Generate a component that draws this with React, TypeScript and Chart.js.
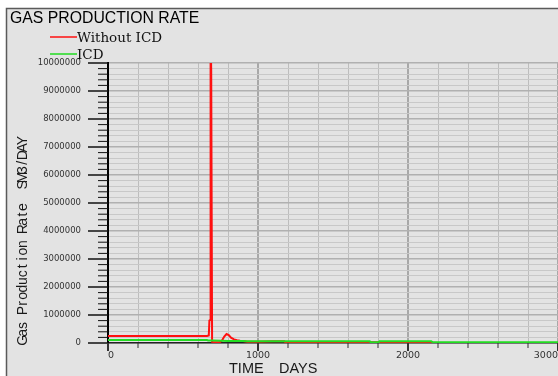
import React, { useEffect, useRef } from 'react';
import { Chart, registerables } from 'chart.js';

Chart.register(...registerables);

// ---- text ----
const chartTitle = 'GAS PRODUCTION RATE';
const xAxisTitleWords = ['TIME', 'DAYS'];
const yAxisTitle = 'Gas Production Rate  SM3/DAY';
const seriesNames = ['Without ICD', 'ICD'];

// ---- data (days, SM3/DAY) ----
const withoutIcdDays = [0, 300, 600, 660, 672, 676, 681, 684, 688, 694, 720, 745, 760, 775, 790, 805, 820, 840, 860, 880, 900, 930, 1000, 1100, 1175, 1182, 1500, 1750, 1800, 2000, 2165];
const withoutIcdRates = [250000, 250000, 250000, 252000, 270000, 800000, 820000, 11000000, 9750000, 40000, 25000, 30000, 90000, 230000, 320000, 280000, 190000, 130000, 100000, 80000, 70000, 45000, 45000, 60000, 60000, 25000, 25000, 25000, 25000, 25000, 25000];

const icdDays = [0, 660, 668, 700, 800, 900, 925, 1000, 1745, 1750, 1805, 1810, 2155, 2165, 2500, 3000];
const icdRates = [107000, 107000, 85000, 85000, 75000, 72000, 62000, 62000, 62000, 30000, 30000, 62000, 62000, 25000, 25000, 30000];

// ---- ticks ----
const xMajorTicks = [0, 1000, 2000, 3000];
const xMinorStep = 200;
const yMajorTicks = [0, 1000000, 2000000, 3000000, 4000000, 5000000, 6000000, 7000000, 8000000, 9000000, 10000000];
const yMinorStep = 200000;

const X_MAX = xMajorTicks[xMajorTicks.length - 1];
const Y_MAX = yMajorTicks[yMajorTicks.length - 1];

const xGridValues: number[] = [];
for (let v = 0; v <= X_MAX; v += xMinorStep) xGridValues.push(v);
const yGridValues: number[] = [];
for (let v = 0; v <= Y_MAX; v += yMinorStep) yGridValues.push(v);

const RED = '#ff1010';
const GREEN = '#22dd22';
const BG = '#e3e3e3';

const decor = {
  id: 'decor',
  beforeDraw(chart: any) {
    const { ctx, width: W, height: H } = chart;
    ctx.save();
    ctx.fillStyle = '#ffffff';
    ctx.fillRect(0, 0, W, H);
    ctx.fillStyle = BG;
    ctx.fillRect(6, 8, W - 6, H - 8);
    ctx.strokeStyle = '#5a5a5a';
    ctx.lineWidth = 1.5;
    ctx.beginPath();
    ctx.moveTo(6.5, H);
    ctx.lineTo(6.5, 8.5);
    ctx.lineTo(W, 8.5);
    ctx.stroke();
    ctx.restore();
  },
  afterDraw(chart: any) {
    const { ctx, chartArea, scales } = chart;
    const xs = scales.x;
    const ys = scales.y;
    ctx.save();
    // y tick marks
    ctx.strokeStyle = '#111';
    yGridValues.forEach((v) => {
      const py = ys.getPixelForValue(v);
      const major = yMajorTicks.includes(v);
      ctx.lineWidth = major ? 1.5 : 1;
      ctx.beginPath();
      ctx.moveTo(major ? 88 : 98, py);
      ctx.lineTo(chartArea.left, py);
      ctx.stroke();
    });
    // x tick marks
    ctx.strokeStyle = '#333';
    xGridValues.forEach((v) => {
      const px = xs.getPixelForValue(v);
      const major = xMajorTicks.includes(v);
      ctx.lineWidth = major ? 2 : 1;
      ctx.beginPath();
      ctx.moveTo(px, chartArea.bottom);
      ctx.lineTo(px, chartArea.bottom + (major ? 8 : 5));
      ctx.stroke();
    });
    // title
    ctx.fillStyle = '#000';
    ctx.font = '15.8px "Liberation Sans", Arial, sans-serif';
    ctx.textAlign = 'left';
    ctx.textBaseline = 'middle';
    ctx.fillText(chartTitle, 10, 19);
    // legend
    const legendColors = [RED, GREEN];
    const legendY = [37, 54];
    seriesNames.forEach((name, i) => {
      ctx.strokeStyle = legendColors[i];
      ctx.lineWidth = 1.5;
      ctx.beginPath();
      ctx.moveTo(50, legendY[i]);
      ctx.lineTo(77, legendY[i]);
      ctx.stroke();
      ctx.fillStyle = '#111';
      ctx.font = '13.5px "DejaVu Serif", serif';
      ctx.textBaseline = 'middle';
      ctx.fillText(name, 77, legendY[i] + 1);
    });
    // x axis title
    ctx.fillStyle = '#1a1a1a';
    ctx.font = '14.5px "Liberation Sans", Arial, sans-serif';
    ctx.textBaseline = 'alphabetic';
    ctx.fillText(xAxisTitleWords[0], 229, 373);
    ctx.fillText(xAxisTitleWords[1], 279, 373);
    // y axis title (fixed character cells)
    ctx.translate(27, 344);
    ctx.rotate(-Math.PI / 2);
    ctx.font = '14px "Liberation Sans", Arial, sans-serif';
    ctx.textAlign = 'center';
    ctx.textBaseline = 'alphabetic';
    const cell = 7.4;
    for (let i = 0; i < yAxisTitle.length; i++) {
      ctx.fillText(yAxisTitle[i], i * cell + cell / 2, 0);
    }
    ctx.restore();
  },
};

export default function App() {
  const ref = useRef<HTMLCanvasElement | null>(null);
  useEffect(() => {
    if (!ref.current) return;
    const chart = new Chart(ref.current, {
      type: 'line',
      data: {
        datasets: [
          {
            label: seriesNames[1],
            data: icdDays.map((d, i) => ({ x: d, y: icdRates[i] })),
            borderColor: GREEN,
            backgroundColor: GREEN,
            borderWidth: 2,
            pointRadius: 0,
            tension: 0,
            fill: false,
            order: 0,
          },
          {
            label: seriesNames[0],
            data: withoutIcdDays.map((d, i) => ({ x: d, y: withoutIcdRates[i] })),
            borderColor: RED,
            backgroundColor: RED,
            borderWidth: 2,
            pointRadius: 0,
            tension: 0,
            fill: false,
            order: 1,
          },
        ],
      },
      options: {
        responsive: false,
        animation: false,
        devicePixelRatio: 1,
        layout: { padding: { left: 0, right: 0, top: 63, bottom: 0 } },
        plugins: {
          legend: { display: false },
          tooltip: { enabled: false },
          title: { display: false },
        },
        scales: {
          x: {
            type: 'linear',
            min: 0,
            max: X_MAX,
            afterFit: (s: any) => {
              s.height = 33;
              s.paddingLeft = 0;
              s.paddingRight = 0;
            },
            afterBuildTicks: (s: any) => {
              s.ticks = xGridValues.map((v) => ({ value: v }));
            },
            ticks: {
              autoSkip: false,
              maxRotation: 0,
              minRotation: 0,
              align: 'inner',
              padding: 7,
              color: '#333',
              font: { family: '"DejaVu Sans", sans-serif', size: 9.5 },
              callback: (v: any) => (xMajorTicks.includes(Number(v)) ? String(v) : ''),
            },
            grid: {
              drawTicks: false,
              color: (c: any) => (c.tick && xMajorTicks.includes(c.tick.value) ? '#a8a8a8' : '#bdbdbd'),
              lineWidth: (c: any) => (c.tick && xMajorTicks.includes(c.tick.value) ? 2 : 1),
            },
            border: { display: true, color: '#222', width: 1.5 },
          },
          y: {
            type: 'linear',
            min: 0,
            max: Y_MAX,
            afterFit: (s: any) => {
              s.width = 108;
            },
            afterBuildTicks: (s: any) => {
              s.ticks = yGridValues.map((v) => ({ value: v }));
            },
            ticks: {
              autoSkip: false,
              padding: 27,
              color: '#333',
              font: { family: '"DejaVu Sans", sans-serif', size: 8.5 },
              callback: (v: any) => (yMajorTicks.includes(Number(v)) ? String(v) : ''),
            },
            grid: {
              drawTicks: false,
              color: (c: any) => (c.tick && yMajorTicks.includes(c.tick.value) ? '#b0b0b0' : '#c8c8c8'),
              lineWidth: (c: any) => (c.tick && yMajorTicks.includes(c.tick.value) ? 1.5 : 1),
            },
            border: { display: true, color: '#000', width: 2 },
          },
        },
      },
      plugins: [decor],
    } as any);
    return () => chart.destroy();
  }, []);
  return (
    <div style={{ position: 'absolute', left: 0, top: 0, width: 558, height: 376 }}>
      <canvas ref={ref} width={558} height={376} style={{ display: 'block' }} />
    </div>
  );
}
